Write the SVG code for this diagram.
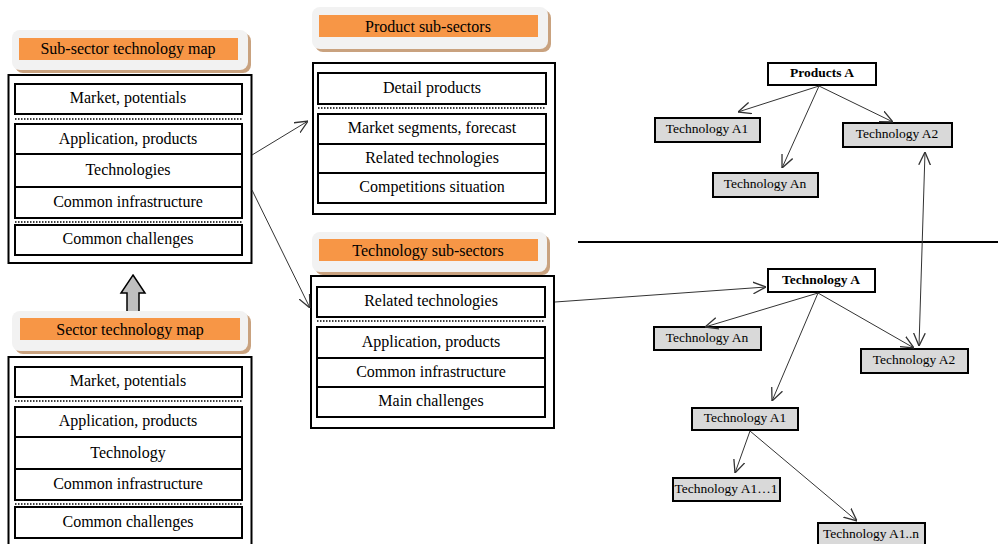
<svg xmlns="http://www.w3.org/2000/svg" width="998" height="544" viewBox="0 0 998 544">
  <defs>
    <style>
      text { font-family: "Liberation Serif", "Times New Roman", serif; fill: #000; text-anchor: middle; }
      .t15 { font-size: 16px; }
      .t13 { font-size: 13.5px; }
      .bold { font-weight: bold; }
      .card { fill: #f2f2f2; }
      .shadow { fill: #c9a27f; }
      .orange { fill: #f79646; }
      .frame { fill: #fff; stroke: #000; stroke-width: 2; }
      .cell { fill: #fff; stroke: #000; stroke-width: 2; }
      .dots { stroke: #000; stroke-width: 1.5; stroke-dasharray: 1.5 1.5; }
      .node { fill: #d9d9d9; stroke: #000; stroke-width: 2; }
      .root { fill: #fff; stroke: #000; stroke-width: 2; }
      .link { stroke: #333; stroke-width: 1; fill: none; marker-end: url(#open); }
      .both { marker-start: url(#open); }
    </style>
    <marker id="open" viewBox="0 0 10 10" refX="10" refY="5" markerWidth="13" markerHeight="13" markerUnits="userSpaceOnUse" orient="auto-start-reverse">
      <path d="M0,0.5 L10,5 L0,9.5" fill="none" stroke="#333" stroke-width="1"/>
    </marker>
  </defs>

  <!-- Sub-sector technology map -->
  <g id="subsector-map">
    <rect class="shadow" x="15" y="33" width="236" height="40" rx="8"/>
    <rect class="card" x="12" y="30" width="236" height="40" rx="8"/>
    <rect class="orange" x="19" y="38" width="219" height="22"/>
    <text class="t15" x="128" y="54">Sub-sector technology map</text>
    <rect class="frame" x="8.5" y="75" width="243" height="188"/>
    <rect class="cell" x="15" y="84" width="227" height="30"/>
    <text class="t15" x="128" y="103">Market, potentials</text>
    <line class="dots" x1="15" y1="119" x2="242" y2="119"/>
    <rect class="cell" x="15" y="124" width="227" height="30"/>
    <text class="t15" x="128" y="143.5">Application, products</text>
    <rect class="cell" x="15" y="154" width="227" height="33"/>
    <text class="t15" x="128" y="175">Technologies</text>
    <rect class="cell" x="15" y="187" width="227" height="31"/>
    <text class="t15" x="128" y="207">Common infrastructure</text>
    <line class="dots" x1="15" y1="222" x2="242" y2="222"/>
    <rect class="cell" x="15" y="225" width="227" height="30"/>
    <text class="t15" x="128" y="244">Common challenges</text>
  </g>

  <!-- Upward arrow between the two maps -->
  <g id="up-arrow">
    <polygon points="133,275 145,293 139,293 139,313 127,313 127,293 121,293" fill="#bfbfbf" stroke="#000" stroke-width="1.5"/>
  </g>

  <!-- Sector technology map -->
  <g id="sector-map">
    <rect class="shadow" x="15" y="314" width="236" height="40" rx="8"/>
    <rect class="card" x="12" y="311" width="236" height="40" rx="8"/>
    <rect class="orange" x="20" y="318" width="220" height="22"/>
    <text class="t15" x="130" y="334.5">Sector technology map</text>
    <rect class="frame" x="8.5" y="357" width="243" height="200"/>
    <rect class="cell" x="15" y="367" width="227" height="30"/>
    <text class="t15" x="128" y="386">Market, potentials</text>
    <line class="dots" x1="15" y1="401" x2="242" y2="401"/>
    <rect class="cell" x="15" y="407" width="227" height="30"/>
    <text class="t15" x="128" y="426">Application, products</text>
    <rect class="cell" x="15" y="437" width="227" height="32"/>
    <text class="t15" x="128" y="457.5">Technology</text>
    <rect class="cell" x="15" y="469" width="227" height="31"/>
    <text class="t15" x="128" y="489">Common infrastructure</text>
    <line class="dots" x1="15" y1="504" x2="242" y2="504"/>
    <rect class="cell" x="15" y="507" width="227" height="31"/>
    <text class="t15" x="128" y="527">Common challenges</text>
  </g>

  <!-- Product sub-sectors -->
  <g id="product-subsectors">
    <rect class="shadow" x="315" y="10" width="236" height="42" rx="8"/>
    <rect class="card" x="312" y="7" width="236" height="42" rx="8"/>
    <rect class="orange" x="319" y="15" width="219" height="22"/>
    <text class="t15" x="428" y="31.5">Product sub-sectors</text>
    <rect class="frame" x="313" y="63" width="242" height="151"/>
    <rect class="cell" x="318" y="73" width="228" height="31"/>
    <text class="t15" x="432" y="93">Detail products</text>
    <line class="dots" x1="318" y1="108" x2="546" y2="108"/>
    <rect class="cell" x="318" y="114" width="228" height="30"/>
    <text class="t15" x="432" y="133">Market segments, forecast</text>
    <rect class="cell" x="318" y="144" width="228" height="29"/>
    <text class="t15" x="432" y="162.5">Related technologies</text>
    <rect class="cell" x="318" y="173" width="228" height="30"/>
    <text class="t15" x="432" y="192">Competitions situation</text>
  </g>

  <!-- Technology sub-sectors -->
  <g id="technology-subsectors">
    <rect class="shadow" x="315" y="235" width="235" height="40" rx="8"/>
    <rect class="card" x="312" y="232" width="235" height="40" rx="8"/>
    <rect class="orange" x="319" y="239" width="219" height="22"/>
    <text class="t15" x="428" y="255.5">Technology sub-sectors</text>
    <rect class="frame" x="311" y="276" width="243" height="152"/>
    <rect class="cell" x="317" y="287" width="228" height="30"/>
    <text class="t15" x="431" y="306">Related technologies</text>
    <line class="dots" x1="317" y1="321" x2="545" y2="321"/>
    <rect class="cell" x="317" y="327" width="228" height="31"/>
    <text class="t15" x="431" y="347">Application, products</text>
    <rect class="cell" x="317" y="358" width="228" height="29"/>
    <text class="t15" x="431" y="377">Common infrastructure</text>
    <rect class="cell" x="317" y="387" width="228" height="30"/>
    <text class="t15" x="431" y="406">Main challenges</text>
  </g>

  <!-- Product tree -->
  <g id="products-a">
    <rect class="root" x="768" y="63" width="108" height="22"/>
    <text class="t13 bold" x="822" y="77">Products A</text>
  </g>
  <g id="p-tech-a1">
    <rect class="node" x="655" y="118" width="105" height="24"/>
    <text class="t13" x="707" y="132.5">Technology A1</text>
  </g>
  <g id="p-tech-an">
    <rect class="node" x="713" y="173" width="105" height="24"/>
    <text class="t13" x="765" y="187.5">Technology An</text>
  </g>
  <g id="p-tech-a2">
    <rect class="node" x="843" y="123" width="109" height="24"/>
    <text class="t13" x="897" y="138">Technology A2</text>
  </g>

  <!-- Technology tree -->
  <g id="technology-a">
    <rect class="root" x="768" y="269" width="107" height="23"/>
    <text class="t13 bold" x="821" y="284">Technology A</text>
  </g>
  <g id="t-tech-an">
    <rect class="node" x="654" y="327" width="107" height="23"/>
    <text class="t13" x="707" y="342">Technology An</text>
  </g>
  <g id="t-tech-a2">
    <rect class="node" x="861" y="349" width="107" height="24"/>
    <text class="t13" x="914" y="364">Technology A2</text>
  </g>
  <g id="t-tech-a1">
    <rect class="node" x="692" y="408" width="106" height="22"/>
    <text class="t13" x="745" y="422">Technology A1</text>
  </g>
  <g id="t-tech-a1-1">
    <rect class="node" x="673" y="478" width="107" height="23"/>
    <text class="t13" x="726" y="493">Technology A1…1</text>
  </g>
  <g id="t-tech-a1-n">
    <rect class="node" x="818" y="523" width="107" height="24"/>
    <text class="t13" x="871" y="538">Technology A1..n</text>
  </g>

  <!-- Connectors -->
  <g id="connectors">
    <line class="link" x1="252" y1="155" x2="308" y2="121"/>
    <line class="link" x1="252" y1="190" x2="310" y2="308"/>
    <line class="link" x1="555" y1="302" x2="766" y2="287"/>
    <line x1="578" y1="242" x2="998" y2="242" stroke="#000" stroke-width="2"/>
    <line class="link" x1="819" y1="86" x2="738" y2="112"/>
    <line class="link" x1="819" y1="86" x2="782" y2="168"/>
    <line class="link" x1="819" y1="86" x2="893" y2="122"/>
    <line class="link both" x1="925" y1="152" x2="919" y2="346"/>
    <line class="link" x1="818" y1="293" x2="705" y2="327"/>
    <line class="link" x1="818" y1="293" x2="914" y2="348"/>
    <line class="link" x1="818" y1="293" x2="772" y2="401"/>
    <line class="link" x1="750" y1="431" x2="735" y2="473"/>
    <line class="link" x1="750" y1="431" x2="857" y2="521"/>
  </g>
</svg>
